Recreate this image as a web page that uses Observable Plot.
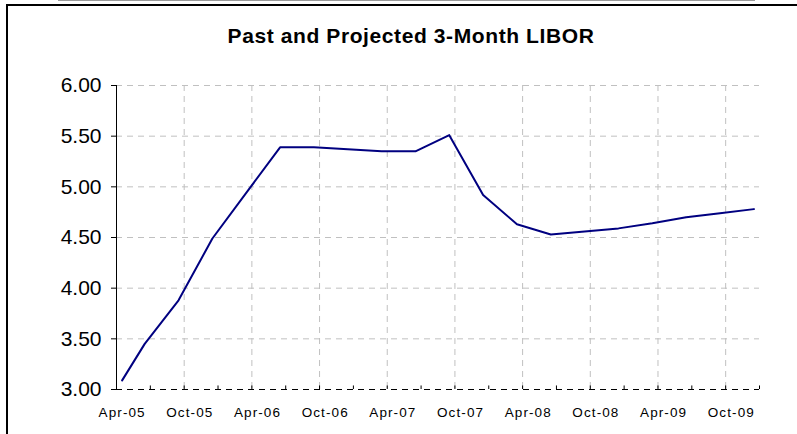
<!DOCTYPE html>
<html><head><meta charset="utf-8">
<script src="https://cdn.jsdelivr.net/npm/d3@7"></script>
<script src="https://cdn.jsdelivr.net/npm/@observablehq/plot@0.6"></script>
<style>
body{margin:0;background:#fff;}
#wrap{position:relative;width:797px;height:434px;overflow:hidden;font-family:"Liberation Sans",Arial,sans-serif;background:#fff;}
#topline{position:absolute;left:58px;top:0;width:697px;height:1px;background:#9a9a9a;}
#frame{position:absolute;left:6px;top:4px;width:900px;height:500px;border-top:2px solid #000;border-left:2px solid #000;}
#title{position:absolute;left:0;top:24px;width:822px;text-align:center;font-weight:bold;font-size:21px;line-height:24px;letter-spacing:0.6px;color:#000;}
#chart{position:absolute;left:0;top:55px;}
</style>
</head><body>
<div id="wrap">
  <div id="topline"></div>
  <div id="frame"></div>
  <div id="title">Past and Projected 3-Month LIBOR</div>
  <div id="chart"></div>
</div>
<script>
const months = ["Apr-05","Jun-05","Sep-05","Dec-05","Mar-06","Jun-06","Sep-06","Dec-06","Mar-07","Jun-07","Sep-07","Dec-07","Mar-08","Jun-08","Sep-08","Dec-08","Mar-09","Jun-09","Sep-09","Dec-09"];
const libor = [3.09,3.45,3.88,4.49,4.94,5.39,5.39,5.37,5.35,5.35,5.51,4.92,4.63,4.53,4.56,4.59,4.64,4.70,4.74,4.78];
const tickLabels = ["Apr-05","Oct-05","Apr-06","Oct-06","Apr-07","Oct-07","Apr-08","Oct-08","Apr-09","Oct-09"];
const yTicks = [3.0,3.5,4.0,4.5,5.0,5.5,6.0];

const monIdx = {Jan:0,Feb:1,Mar:2,Apr:3,May:4,Jun:5,Jul:6,Aug:7,Sep:8,Oct:9,Nov:10,Dec:11};
// month slot index counted from Apr-05 (Excel date axis, monthly base unit)
const slot = s => { const [m, y] = s.split("-"); return (2000 + +y - 2005) * 12 + monIdx[m] - 3; };
const data = months.map((m, i) => ({x: slot(m) + 0.5, y: libor[i]}));
const tickPos = tickLabels.map(l => slot(l) + 0.5);
const nSlots = slot("Dec-09") + 1;
const gridPos = tickLabels.slice(1).map(l => slot(l));
const quarterTicks = d3.range(0, nSlots + 1, 3);

const chart = Plot.plot({
  width: 797,
  height: 379,
  marginLeft: 116,
  marginRight: 38,
  marginTop: 30,
  marginBottom: 45,
  style: {fontFamily: "'Liberation Sans', Arial, sans-serif", color: "#000", background: "transparent", overflow: "visible"},
  x: {domain: [0, nSlots], axis: null},
  y: {domain: [3, 6], axis: null},
  marks: [
    Plot.ruleY(yTicks.slice(1), {stroke: "#c0c0c0", strokeDasharray: "6,5"}),
    Plot.ruleX(gridPos, {stroke: "#c0c0c0", strokeDasharray: "6,5"}),
    Plot.ruleY([3], {stroke: "#000", strokeDasharray: "6,5"}),
    Plot.ruleX(quarterTicks, {y1: 3, y2: 3.035, stroke: "#000"}),
    Plot.ruleX([0], {stroke: "#000"}),
    Plot.line(data, {x: "x", y: "y", stroke: "#000080", strokeWidth: 2}),
    Plot.axisY({ticks: yTicks, tickFormat: d => d.toFixed(2), tickSize: 5, tickPadding: 10, fontSize: 21, label: null}),
    Plot.axisX({ticks: tickPos, tickFormat: d => tickLabels[tickPos.indexOf(d)], tickSize: 0, tickPadding: 18, fontSize: 13.5, label: null})
  ]
});
d3.select(chart).selectAll('g[aria-label="x-axis tick label"] text').attr("letter-spacing", "1.1px");
document.getElementById("chart").appendChild(chart);
</script>
</body></html>
